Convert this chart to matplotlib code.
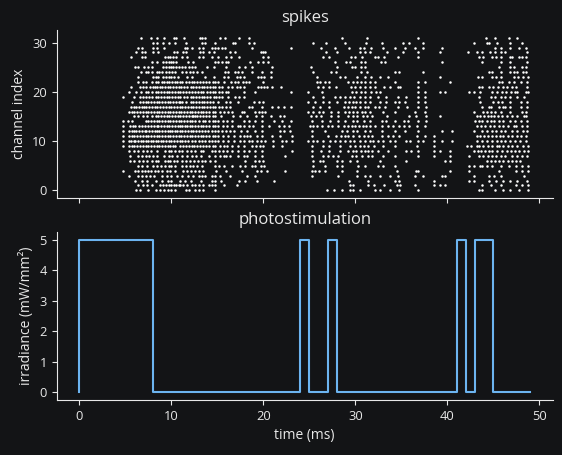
import numpy as np
import matplotlib
matplotlib.use("Agg")
import matplotlib.pyplot as plt

spike_times = [
    # ch 0
    [6.2, 6.6, 7.5, 8.3, 8.8, 9.2, 9.6, 10.0, 10.4, 11.6, 11.9, 12.6, 13.0, 13.5, 14.7,
     26.9, 27.7, 28.5, 29.4, 29.8, 30.5, 32.1, 32.7, 33.8, 34.7, 36.8,
     43.4, 43.8, 45.2, 46.1, 46.8, 47.8, 48.8],
    # ch 1
    [6.4, 6.9, 7.4, 7.9, 8.8, 9.1, 9.4, 9.7, 10.0, 10.3, 10.5, 10.8, 11.0, 11.3, 11.7, 12.2,
     12.6, 13.0, 13.5, 14.1, 14.4, 14.8, 15.7, 17.1,
     29.4, 29.8, 31.4, 32.0, 33.1, 34.5, 34.9, 36.5,
     38.6, 39.2, 39.7, 43.8, 44.7, 45.8, 47.5, 48.1, 48.8],
    # ch 2
    [6.1, 6.8, 7.4, 8.3, 9.0, 9.6, 10.0, 11.0, 11.5, 12.1, 13.2, 14.4, 14.8, 15.4, 17.4,
     18.0, 19.3, 21.2,
     29.3, 31.4, 34.3, 34.7, 38.6,
     42.4, 42.9, 44.5, 45.3, 46.1, 46.8, 47.6, 48.7],
    # ch 3
    [5.4, 6.4, 6.8, 7.2, 7.7, 8.1, 9.0, 9.5, 10.0, 10.6, 11.2, 11.8, 12.4, 13.0, 13.3, 13.7,
     14.4, 14.8, 15.3, 16.4, 18.2, 19.1,
     25.3, 28.1, 30.2, 31.0, 31.6, 32.7, 33.8, 34.6, 36.5, 37.3,
     39.4, 39.7, 42.9, 44.5, 45.1, 45.8, 48.3],
    # ch 4
    [4.7, 6.1, 6.4, 6.8, 7.1, 7.5, 7.8, 8.2, 8.6, 9.0, 9.5, 9.9, 10.4, 11.3, 11.7, 12.1,
     12.6, 13.0, 13.5, 14.9, 15.9, 17.7, 19.3, 19.8, 20.4, 22.4,
     25.3, 25.6, 26.0, 26.7, 28.5, 30.2, 34.5, 36.6, 36.8,
     40.3, 42.4, 45.6, 47.5, 48.1, 48.8],
    # ch 5
    [6.4, 6.8, 7.4, 8.0, 8.4, 8.9, 9.3, 9.7, 10.0, 10.4, 11.2, 11.6, 12.0, 12.4, 12.8, 13.3,
     14.7, 15.2, 15.7, 16.6, 17.5, 18.0, 18.8, 19.1, 19.8, 20.1,
     25.4, 26.7, 28.0, 28.5, 30.3, 31.0, 32.5, 33.0, 34.3,
     42.4, 42.9, 43.5, 43.8, 44.3, 44.9, 45.8, 46.7, 47.5, 48.1, 48.8],
    # ch 6
    [5.5, 6.0, 6.5, 6.9, 7.4, 7.9, 8.3, 8.6, 9.3, 9.6, 9.9, 10.3, 10.6, 11.2, 11.6, 12.0,
     12.5, 12.9, 13.3, 13.7, 14.2, 14.8, 18.0, 19.1, 19.5, 20.0,
     25.4, 26.2, 26.5, 28.0, 28.5, 29.4, 30.2, 32.7, 35.5,
     39.7, 40.3, 44.3, 44.7, 45.2, 45.6, 46.1, 46.6, 47.0, 47.5, 47.9],
    # ch 7
    [5.5, 6.4, 6.8, 7.2, 7.6, 8.0, 8.4, 9.2, 9.7, 10.1, 10.6, 11.2, 11.7, 12.2, 12.7, 13.2,
     14.1, 14.8, 15.3, 15.7, 16.0, 16.4, 17.3, 17.9, 18.2, 19.1, 19.9, 22.4,
     25.3, 26.5, 27.0, 27.6, 28.1, 29.6, 30.1, 30.7, 31.4, 31.8, 33.0, 34.3, 36.8,
     38.6, 40.3, 42.4, 43.4, 43.9, 44.4, 44.9, 45.3, 45.8, 46.3, 47.0, 47.6, 48.1, 48.7],
    # ch 8
    [5.4, 5.9, 6.4, 6.9, 7.4, 7.8, 8.4, 9.3, 9.7, 10.0, 10.4, 10.8, 11.2, 11.7, 12.1, 12.6,
     13.2, 13.5, 14.4, 14.8, 15.2, 15.6, 16.1, 16.6, 17.3, 17.9, 18.4, 19.1, 19.9, 23.1,
     25.3, 26.3, 27.1, 28.3, 29.2, 29.8, 30.1, 30.6, 31.0, 31.4, 31.8, 32.5, 33.6, 35.5,
     36.0, 36.8,
     38.6, 39.2, 40.3, 42.9, 43.3, 43.7, 44.1, 44.5, 44.9, 45.4, 45.9, 46.5, 46.9, 47.4,
     47.8, 48.3, 48.8],
    # ch 9
    [4.7, 5.4, 5.7, 6.0, 6.3, 6.6, 6.9, 7.2, 7.5, 7.8, 8.1, 8.4, 8.7, 9.0, 9.3, 9.6, 9.9,
     10.2, 10.4, 11.0, 11.3, 11.6, 11.9, 12.2, 12.5, 12.8, 13.1, 13.5, 13.8, 14.1, 14.5,
     14.8, 15.3, 15.7, 16.1, 16.6, 17.2, 17.9, 18.8, 19.2, 19.6, 20.0, 21.1, 22.0,
     25.3, 26.5, 27.1, 28.3, 29.4, 30.0, 30.5, 30.9, 31.4, 32.0, 33.0, 34.3, 36.7, 38.6,
     42.1, 42.6, 43.2, 43.4, 43.9, 44.4, 44.9, 45.4, 45.6, 46.1, 46.6, 47.0, 47.6, 48.2, 48.8],
    # ch 10
    [4.7, 5.4, 5.6, 5.9, 6.1, 6.4, 6.7, 6.9, 7.2, 7.5, 7.8, 8.0, 8.3, 8.6, 8.9, 9.1, 9.4,
     9.7, 10.0, 10.3, 10.6, 10.9, 11.2, 11.5, 11.8, 12.2, 12.6, 13.0, 13.3, 13.7, 14.1,
     14.4, 14.8, 15.1, 15.6, 16.2, 16.8, 17.5, 17.9, 18.4, 18.8, 19.3, 19.8, 20.2, 21.1,
     22.0, 22.5, 23.1,
     24.9, 25.4, 25.8, 26.5, 27.2, 27.8, 28.3, 28.9, 29.4, 29.9, 30.5, 31.0, 31.6, 31.9,
     32.5, 33.0, 33.8, 34.3, 35.5, 35.9, 36.8, 37.4, 38.6,
     39.4, 40.5, 43.2, 43.8, 44.3, 44.8, 45.4, 45.8, 46.3, 46.8, 47.4, 47.9, 48.5],
    # ch 11
    [4.7, 5.4, 5.7, 6.0, 6.3, 6.6, 6.9, 7.2, 7.5, 7.8, 8.1, 8.4, 8.7, 9.0, 9.3, 9.6, 9.9,
     10.2, 10.5, 10.8, 11.1, 11.4, 11.7, 12.0, 12.3, 12.6, 12.9, 13.2, 13.5, 13.8, 14.1,
     14.5, 14.8, 15.1, 15.6, 16.2, 16.8, 17.5, 17.9, 18.2, 18.6, 19.3, 19.9, 20.9, 21.8, 23.1,
     25.3, 27.0, 27.9, 28.4, 28.9, 29.2, 29.8, 30.4, 30.9, 31.4, 31.8, 32.9, 33.6, 34.1,
     34.7, 36.7, 37.6, 38.6,
     43.2, 43.6, 44.0, 44.4, 44.9, 45.3, 45.7, 46.1, 46.6, 47.0, 47.6, 48.0, 48.5],
    # ch 12
    [4.7, 5.4, 5.7, 6.0, 6.2, 6.5, 6.8, 7.1, 7.3, 7.6, 7.9, 8.2, 8.5, 8.7, 9.0, 9.3, 9.6,
     9.9, 10.1, 10.4, 10.6, 10.9, 11.2, 11.5, 11.8, 12.1, 12.4, 12.7, 13.0, 13.3, 13.7,
     14.0, 14.4, 14.8, 15.1, 15.5, 15.9, 16.4, 16.8, 17.6, 18.2, 19.1, 19.9, 21.8, 22.3, 22.9,
     25.3, 26.7, 28.5, 29.1, 29.8, 30.2, 31.0, 31.6, 32.9, 34.3, 35.4, 36.8,
     39.4, 40.5, 42.9, 43.8, 44.3, 44.8, 45.3, 45.8, 46.3, 47.0, 47.6, 48.2, 48.7],
    # ch 13
    [4.7, 5.5, 5.8, 6.1, 6.5, 6.8, 7.1, 7.5, 7.8, 8.1, 8.4, 8.6, 8.9, 9.2, 9.5, 9.8, 10.1,
     10.4, 10.7, 11.0, 11.2, 11.5, 11.7, 12.0, 12.3, 12.6, 12.9, 13.2, 13.5, 13.8, 14.1,
     14.5, 14.8, 15.1, 15.6, 16.1, 16.6, 17.2, 17.5, 17.9, 18.4, 18.9, 19.9, 20.6, 21.7,
     22.2, 22.8,
     25.1, 25.4, 25.8, 26.4, 27.0, 27.5, 28.1, 28.8, 29.2, 29.6, 30.0, 30.4, 30.8, 31.2,
     31.6, 32.1, 32.9, 33.6, 34.1, 34.7, 35.3, 35.8, 36.7, 37.6,
     43.2, 43.7, 44.1, 44.6, 45.1, 45.6, 46.1, 46.6, 47.2, 47.5, 48.1, 48.7],
    # ch 14
    [4.7, 5.3, 5.7, 7.2, 7.5, 7.8, 8.1, 8.4, 8.7, 9.0, 9.3, 9.6, 9.9, 10.2, 10.5, 10.8,
     11.1, 11.4, 11.7, 12.0, 12.3, 12.6, 13.0, 13.4, 13.7, 14.1, 14.5, 14.8, 15.1, 15.6,
     16.1, 16.6, 17.9, 18.4, 19.1, 19.9, 21.2, 22.0, 23.0,
     25.3, 26.4, 27.2, 28.1, 28.9, 29.8, 30.2, 30.9, 31.6, 32.9, 33.3, 34.3, 35.3, 35.7,
     36.8, 37.7,
     43.0, 43.4, 43.8, 44.3, 44.7, 45.1, 45.6, 46.1, 46.8, 47.4, 48.0, 48.7],
    # ch 15
    [5.9, 6.4, 6.9, 7.4, 7.9, 8.3, 8.6, 8.9, 9.2, 9.5, 9.8, 10.1, 10.4, 10.7, 11.0, 11.3,
     11.6, 11.9, 12.2, 12.4, 12.6, 12.8, 13.1, 13.4, 13.8, 14.1, 14.5, 14.8, 15.4, 16.7,
     17.5, 18.2, 19.2, 19.9, 20.8, 21.8, 22.2,
     25.2, 25.7, 26.3, 27.4, 28.1, 29.2, 29.7, 30.2, 30.8, 31.3, 31.8, 33.4, 35.8, 36.6, 37.7,
     39.2, 43.2, 43.6, 44.0, 44.4, 44.7, 45.1, 45.5, 45.9, 46.5, 47.0, 47.6, 48.3, 48.5],
    # ch 16
    [5.4, 5.7, 6.0, 6.3, 6.6, 6.9, 7.2, 7.5, 7.8, 8.1, 8.4, 8.7, 9.0, 9.3, 9.6, 9.9, 10.2,
     10.5, 10.8, 11.1, 11.4, 11.7, 12.0, 12.3, 12.6, 12.9, 13.2, 13.5, 13.8, 14.1, 14.5,
     14.8, 15.3, 15.7, 16.2, 16.6, 17.7, 17.9, 19.1, 19.5, 19.9, 20.2,
     24.9, 25.4, 26.0, 26.5, 27.4, 28.1, 28.9, 29.3, 29.8, 30.2, 30.7, 31.1, 31.6, 33.0,
     34.3, 36.5, 37.6,
     42.9, 43.9, 44.3, 44.7, 45.2, 45.8, 46.8, 48.1, 48.5],
    # ch 17
    [5.6, 5.9, 6.2, 6.5, 6.8, 7.0, 7.3, 7.6, 7.9, 8.2, 8.5, 8.8, 9.1, 9.4, 9.7, 10.0, 10.3,
     10.6, 10.9, 11.2, 11.5, 11.8, 12.1, 12.4, 12.7, 13.0, 13.3, 13.6, 13.9, 14.2, 14.5,
     14.8, 15.2, 15.5, 15.9, 16.4, 18.4, 18.8, 19.9, 20.9, 21.6, 22.2, 23.0,
     25.4, 26.2, 27.1, 28.8, 29.2, 29.6, 30.0, 30.5, 31.0, 31.4, 32.1, 32.6, 33.2, 34.6,
     35.6, 36.8, 37.7,
     43.8, 44.5, 44.7, 45.6, 46.0, 46.3, 46.8, 48.0, 48.7],
    # ch 18
    [5.7, 6.6, 6.9, 7.2, 7.5, 7.8, 8.1, 8.4, 8.7, 9.0, 9.3, 9.6, 9.9, 10.2, 10.5, 10.8,
     11.0, 11.2, 11.6, 12.1, 12.4, 12.7, 13.0, 13.3, 13.6, 13.9, 14.2, 14.5, 15.1, 15.9,
     16.4, 17.3, 19.0, 19.5, 20.0,
     24.9, 25.6, 26.5, 27.1, 28.0, 28.9, 29.3, 29.7, 30.1, 30.5, 31.0, 31.6, 32.7, 33.3,
     34.3, 34.7, 35.4, 36.8, 37.6,
     43.5, 45.0, 45.5, 45.9, 46.8, 48.0, 48.7],
    # ch 19
    [4.8, 5.9, 6.6, 6.9, 7.2, 7.6, 7.9, 8.3, 8.6, 8.9, 9.2, 9.5, 9.8, 10.1, 10.4, 10.7,
     11.0, 11.4, 11.7, 12.1, 12.4, 12.7, 13.0, 13.3, 13.6, 13.9, 14.2, 14.6, 14.9, 15.2,
     15.5, 16.2, 16.9, 17.4, 17.9,
     25.4, 26.5, 27.8, 28.3, 28.9, 29.4, 29.9, 30.5, 31.0, 31.6, 32.5, 33.3, 34.6, 35.5,
     36.8, 37.6,
     43.4, 44.7, 45.2, 45.8, 46.3, 46.8, 47.6, 48.3],
    # ch 20
    [5.4, 6.2, 6.7, 7.2, 7.5, 7.9, 8.3, 8.6, 8.9, 9.2, 9.5, 9.8, 10.1, 10.4, 10.7, 11.0,
     11.3, 11.6, 11.9, 12.3, 12.6, 12.9, 13.2, 13.5, 13.9, 14.2, 14.5, 14.8, 15.2, 15.5,
     15.9, 16.2, 17.9, 19.1, 23.0,
     24.9, 26.4, 29.6, 30.1, 30.6, 31.1, 31.7, 32.2, 32.7, 36.8, 37.6,
     39.2, 39.7, 42.4, 42.9, 43.5, 44.9, 45.4, 45.9, 46.4, 46.9, 47.3, 47.6, 48.5, 48.8],
    # ch 21
    [5.6, 6.6, 6.9, 7.2, 7.7, 8.0, 8.2, 8.5, 8.8, 9.0, 9.3, 9.6, 9.9, 10.2, 10.5, 10.8,
     11.1, 11.4, 11.7, 12.1, 12.4, 12.7, 13.0, 13.3, 13.6, 13.9, 14.2, 14.5, 14.8, 15.2,
     15.5, 16.2, 16.6, 17.1, 17.5, 17.9, 19.4, 19.7, 20.1, 20.4, 20.9, 21.9,
     25.9, 26.5, 27.1, 27.9, 29.5, 30.0, 30.5, 31.0, 31.6, 32.1, 33.1, 33.8, 34.6, 34.9, 36.8,
     43.4, 43.8, 44.5, 45.0, 45.5, 46.0, 46.5, 47.0, 47.5, 48.7],
    # ch 22
    [6.4, 6.9, 7.2, 7.9, 8.3, 8.6, 9.0, 9.2, 9.5, 9.8, 10.1, 10.4, 10.6, 10.9, 11.2, 11.6,
     11.9, 12.2, 12.5, 12.8, 13.1, 13.4, 13.8, 14.1, 14.5, 14.8, 15.1, 15.7, 16.5, 16.9,
     17.3, 17.8, 18.1, 18.4, 20.0,
     25.8, 26.2, 26.7, 27.1, 29.2, 29.7, 30.2, 30.6, 31.1, 31.6, 32.1, 34.3, 36.8, 37.6,
     40.3, 45.6, 45.9, 46.7, 47.2, 48.0, 48.7],
    # ch 23
    [6.4, 8.0, 8.3, 8.6, 9.1, 9.4, 9.7, 10.0, 10.3, 10.7, 11.7, 12.2, 13.7, 14.6, 15.7,
     16.2, 17.1, 17.5, 17.9, 19.4, 19.8, 20.1, 20.8,
     25.8, 28.3, 28.9, 30.2, 31.0, 31.7, 32.7, 33.5,
     39.2, 43.3, 43.8, 44.9, 45.3, 45.8, 47.2, 47.7, 48.2, 48.8],
    # ch 24
    [6.7, 7.2, 7.5, 7.9, 8.4, 8.7, 9.0, 9.4, 9.7, 10.1, 10.4, 11.2, 11.6, 12.0, 12.4, 12.8,
     13.3, 15.8, 16.2, 16.9, 17.2, 17.7, 18.8, 19.9, 20.8,
     25.4, 27.4, 27.9, 30.6, 31.3, 34.3, 34.7, 37.3,
     44.5, 44.9, 45.8, 46.8, 47.2, 47.6, 48.2, 48.5],
    # ch 25
    [6.1, 6.4, 7.0, 7.5, 7.9, 9.1, 9.4, 9.7, 10.0, 10.2, 10.5, 10.8, 11.2, 11.5, 11.9,
     12.2, 12.6, 13.9, 14.6, 16.0, 17.4, 18.0, 18.8, 20.9,
     25.2, 28.0, 29.6, 30.0, 30.6, 31.1,
     45.6, 46.8, 47.2, 48.1, 48.5],
    # ch 26
    [7.9, 8.4, 9.1, 9.4, 9.7, 10.0, 10.2, 10.5, 11.8, 12.4, 14.7, 15.1, 15.5, 15.9, 16.2,
     18.5, 19.4, 20.0, 20.5,
     27.8, 29.0, 29.4, 30.6, 31.1, 32.8, 33.2,
     39.4, 43.8, 45.8, 46.8, 48.7],
    # ch 27
    [5.6, 6.8, 7.1, 9.3, 9.6, 9.9, 10.2, 10.5, 11.2, 11.7, 13.0, 13.5, 14.4, 15.1, 16.0,
     16.5, 17.4, 20.0, 20.5,
     26.5, 27.1, 29.5, 30.0, 30.7, 32.1, 32.5, 33.1, 34.6, 36.8,
     43.4, 43.9, 44.9, 45.3, 45.8, 46.8, 47.0, 47.8, 48.1, 48.5],
    # ch 28
    [6.2, 6.8, 7.1, 8.0, 8.6, 10.3, 10.6, 11.3, 11.6, 13.1, 13.5, 14.1, 14.6, 16.4, 16.9,
     19.7, 20.0, 20.2,
     26.8, 28.0, 30.5, 31.0, 31.6, 33.4, 35.2, 36.8,
     39.2, 42.2, 43.2, 43.8, 44.6, 45.2, 45.8, 46.3, 48.7],
    # ch 29
    [6.4, 6.8, 8.0, 8.5, 9.2, 11.5, 11.7, 12.2, 13.0, 13.5, 14.4, 14.8, 15.1, 15.5, 15.8,
     18.8, 23.0,
     26.3, 27.8, 29.3, 30.5, 30.9, 31.7, 33.0, 34.3, 35.4, 36.5, 37.3,
     39.4, 45.2, 45.8, 46.8, 47.8, 48.5],
    # ch 30
    [8.0, 8.5, 9.1, 9.8, 10.4, 11.6, 13.3, 13.7, 14.8, 16.7, 16.9, 18.4, 19.0,
     25.4, 26.8, 28.9, 31.2, 32.9, 35.2, 35.8, 37.3,
     42.9, 44.3, 44.5, 45.4, 46.8, 48.1],
    # ch 31
    [6.7, 7.8, 8.4, 9.2, 10.3, 10.5, 11.4, 13.1, 13.3, 13.7, 15.3, 15.8, 17.4, 18.4,
     28.6, 31.3, 36.8,
     44.2, 45.2, 46.7, 47.6],
]

# photostimulation pulses (ms) and amplitude (mW/mm^2)
pulse_on = [0, 24, 27, 41, 43]
pulse_off = [8, 25, 28, 42, 45]
pulse_amp = 5
time_ms = np.arange(0, 50)

irradiance = np.zeros(len(time_ms))
for on, off in zip(pulse_on, pulse_off):
    irradiance[(time_ms > on) & (time_ms <= off)] = pulse_amp

bg = "#131416"
fg = "#e8e8e8"
plt.rcParams["font.family"] = ["Open Sans", "DejaVu Sans"]
plt.rcParams["text.color"] = fg
plt.rcParams["axes.labelcolor"] = fg
plt.rcParams["xtick.color"] = fg
plt.rcParams["ytick.color"] = fg
plt.rcParams["axes.edgecolor"] = fg

fig = plt.figure(figsize=(5.62, 4.55), dpi=100, facecolor=bg)
ax1 = fig.add_axes([0.1009, 0.5648, 0.8826, 0.3692])
ax2 = fig.add_axes([0.1009, 0.1209, 0.8826, 0.3686], sharex=ax1)

for ax in (ax1, ax2):
    ax.set_facecolor(bg)
    ax.spines["top"].set_visible(False)
    ax.spines["right"].set_visible(False)
    ax.tick_params(labelsize=9.3, length=3.5, width=0.8)

xs = []
ys = []
for ch, times in enumerate(spike_times):
    xs.extend(times)
    ys.extend([ch] * len(times))
ax1.plot(xs, ys, "o", color="white", ms=1.8, mew=0)
ax1.set_ylabel("channel index", fontsize=10)
ax1.set_title("spikes", fontsize=12)
ax1.set_yticks([0, 10, 20, 30])
ax1.set_ylim(-1.55, 32.55)
plt.setp(ax1.get_xticklabels(), visible=False)

ax2.step(time_ms, irradiance, color="#6cb4f0", lw=1.5)
ax2.set_title("photostimulation", fontsize=12)
ax2.set_ylabel("irradiance (mW/mm²)", fontsize=10)
ax2.set_xlabel("time (ms)", fontsize=10)
ax2.set_xticks([0, 10, 20, 30, 40, 50])
ax2.set_xlim(-2.45, 51.45)

fig.savefig("out.png", dpi=100, facecolor=bg)
